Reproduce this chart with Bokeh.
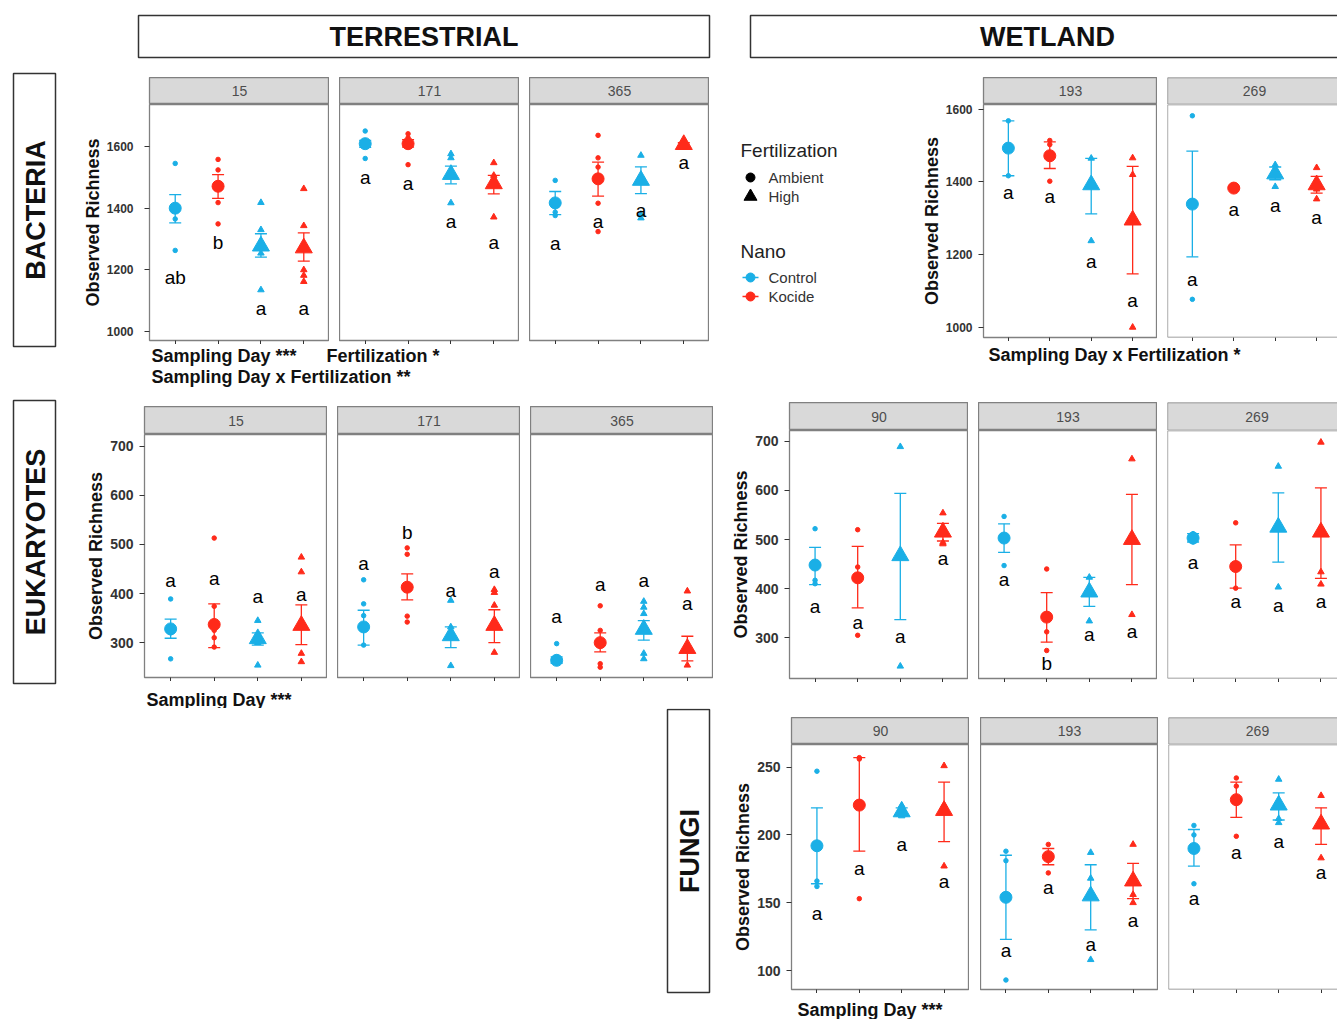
import math
from bokeh.plotting import figure
from bokeh.models import Range1d, FixedTicker, Whisker, TeeHead, ColumnDataSource, Spacer, Span
from bokeh.layouts import row, column
from bokeh.embed import file_html
from bokeh.resources import INLINE
from bokeh.core.properties import value

FONT = "Liberation Sans"
BLUE = "#1AAFE6"
RED = "#FF2A1A"
INK = "#111111"
TICK_TXT = "#333333"
BORDER = "#808080"
STRIP_FILL = "#D9D9D9"

# ---------------- groups ----------------
GROUP_X = [1, 2, 3, 4]
NANO = ["Control", "Kocide", "Control", "Kocide"]
FERT = ["Ambient", "Ambient", "High", "High"]
NANO_COLOR = {"Control": BLUE, "Kocide": RED}
FERT_MARKER = {"Ambient": "circle", "High": "triangle"}
MEAN_SIZE = {"Ambient": 12, "High": 17}
RAW_SIZE = {"Ambient": 4.5, "High": 6.5}

# ---------------- BACTERIA / TERRESTRIAL ----------------
BT_DAYS = ["15", "171", "365"]
BT_MEAN = [[1400, 1471, 1277, 1271], [1609, 1609, 1509, 1479], [1417, 1495, 1490, 1606]]
BT_LOW = [[1352, 1432, 1241, 1228], [1597, 1598, 1479, 1446], [1379, 1439, 1447, 1600]]
BT_HIGH = [[1444, 1509, 1317, 1320], [1620, 1622, 1536, 1506], [1454, 1549, 1534, 1612]]
BT_RAW = [
    [[1545, 1365, 1263], [1558, 1524, 1418, 1349], [1418, 1330, 1254, 1135], [1463, 1343, 1200, 1182, 1162]],
    [[1650, 1561], [1641, 1628, 1541], [1576, 1563, 1417], [1547, 1506, 1493, 1371]],
    [[1490, 1387, 1376], [1636, 1563, 1533, 1416, 1324], [1571, 1380, 1368], [1610, 1604]],
]
BT_LETTERS = [["ab", "b", "a", "a"], ["a", "a", "a", "a"], ["a", "a", "a", "a"]]
BT_LETTER_Y = [[1176, 1288, 1076, 1076], [1498, 1481, 1358, 1290], [1287, 1357, 1393, 1547]]

# ---------------- BACTERIA / WETLAND ----------------
BW_DAYS = ["193", "269"]
BW_MEAN = [[1493, 1472, 1392, 1295], [1339, 1383, 1422, 1392]]
BW_LOW = [[1417, 1437, 1312, 1147], [1194, 1380, 1406, 1369]]
BW_HIGH = [[1568, 1510, 1465, 1443], [1485, 1386, 1441, 1415]]
BW_RAW = [
    [[1568, 1417], [1514, 1503, 1402], [1465, 1238], [1466, 1420, 1000]],
    [[1582, 1077], [1383], [1447, 1430, 1387], [1439, 1380, 1353]],
]
BW_LETTERS = [["a", "a", "a", "a"], ["a", "a", "a", "a"]]
BW_LETTER_Y = [[1370, 1361, 1180, 1074], [1132, 1325, 1335, 1302]]

# ---------------- EUKARYOTES / TERRESTRIAL ----------------
ET_DAYS = ["15", "171", "365"]
ET_MEAN = [[328, 337, 308, 335], [332, 413, 314, 335], [264, 300, 327, 288]]
ET_LOW = [[309, 290, 295, 296], [295, 387, 290, 300], [258, 281, 305, 263]]
ET_HIGH = [[348, 379, 320, 377], [366, 440, 332, 367], [271, 320, 345, 313]]
ET_RAW = [
    [[389, 320, 267], [513, 374, 325, 310, 291], [345, 300, 254], [474, 444, 278, 261]],
    [[428, 379, 355, 295], [493, 480, 354, 342], [386, 332, 253], [408, 402, 376, 280]],
    [[298, 270, 258], [375, 325, 257, 250], [384, 372, 359, 278, 267], [405, 254]],
]
ET_LETTERS = [["a", "a", "a", "a"], ["a", "b", "a", "a"], ["a", "a", "a", "a"]]
ET_LETTER_Y = [[427, 430, 393, 398], [462, 524, 406, 444], [354, 419, 427, 379]]

# ---------------- EUKARYOTES / WETLAND ----------------
EW_DAYS = ["90", "193", "269"]
EW_MEAN = [[448, 422, 467, 515], [503, 342, 393, 500], [503, 445, 525, 515]]
EW_LOW = [[408, 361, 337, 497], [474, 291, 364, 408], [495, 401, 454, 421]]
EW_HIGH = [[484, 486, 594, 533], [532, 392, 423, 592], [512, 489, 595, 605]]
EW_RAW = [
    [[522, 417, 410], [520, 444, 305], [689, 242], [554, 494, 491]],
    [[547, 447], [440, 312, 274], [423, 334], [664, 347]],
    [[512, 495], [534, 401], [649, 403], [698, 434, 409]],
]
EW_LETTERS = [["a", "a", "a", "a"], ["a", "b", "a", "a"], ["a", "a", "a", "a"]]
EW_LETTER_Y = [[364, 331, 303, 461], [418, 247, 306, 312], [454, 374, 366, 374]]

# ---------------- FUNGI / WETLAND ----------------
FW_DAYS = ["90", "193", "269"]
FW_MEAN = [[192, 222, 217, 218], [154, 184, 155, 166], [190, 226, 222, 208]]
FW_LOW = [[164, 188, 214, 195], [123, 178, 130, 153], [177, 213, 211, 193]]
FW_HIGH = [[220, 257, 220, 239], [185, 190, 178, 179], [204, 239, 231, 220]]
FW_RAW = [
    [[247, 166, 162], [257, 256, 153], [222, 218, 216, 214], [251, 222, 177]],
    [[188, 181, 93], [193, 172], [187, 168, 108], [193, 156, 150]],
    [[207, 200, 164], [242, 236, 199], [241, 212, 209], [229, 183]],
]
FW_LETTERS = [["a", "a", "a", "a"], ["a", "a", "a", "a"], ["a", "a", "a", "a"]]
FW_LETTER_Y = [[142, 175, 193, 166], [115, 161, 119, 137], [153, 187, 195, 172]]

BACT_TICKS = [1000, 1200, 1400, 1600]
EUK_TICKS = [300, 400, 500, 600, 700]
FUNGI_TICKS = [100, 150, 200, 250]


def make_deco(x0, x1, y0, y1):
    p = figure(frame_width=x1 - x0, frame_height=y1 - y0,
               x_range=Range1d(x0, x1), y_range=Range1d(y1, y0),
               x_axis_type=None, y_axis_type=None, title=None,
               output_backend="svg", toolbar_location=None,
               min_border_left=0, min_border_right=0, min_border_top=0, min_border_bottom=0)
    p.outline_line_color = None
    return p


def put_text(p, x, y, s, size, bold=False, color=INK, align="left", angle=0.0, baseline="middle"):
    p.text(x=[x], y=[y], text=[s], text_font=value(FONT), text_font_size=f"{size}px",
           text_font_style="bold" if bold else "normal", text_color=color,
           text_align=align, text_baseline=baseline, angle=angle)


def box(p, l, r, t, b):
    p.quad(left=[l], right=[r], top=[t], bottom=[b], fill_color=None,
           line_color="#333333", line_width=1.5)


def facet_group(days, means, lows, highs, raws, letters, letter_y, y_lo, y_hi, yticks, tick_font,
                tick_standoff, border, widths, full_widths, gaps, top_pad, strip_h, panel_h):
    yr = Range1d(y_lo, y_hi)
    strips, panels = [], []
    total_w = border + sum(widths) + sum(gaps)
    for i, day in enumerate(days):
        w, fw = widths[i], full_widths[i]
        frac = w / fw
        lb = border if i == 0 else 0
        cut = w < fw
        # ---- strip ----
        s = figure(frame_width=w, frame_height=strip_h, x_range=Range1d(0, frac), y_range=Range1d(0, 1),
                   x_axis_type=None, y_axis_type=None, title=None,
                   output_backend="svg", toolbar_location=None,
                   min_border_left=lb, min_border_right=0, min_border_top=0, min_border_bottom=0)
        s.background_fill_color = STRIP_FILL
        s.outline_line_color = None if cut else BORDER
        s.outline_line_width = 1.3
        s.text(x=[0.5], y=[0.5], text=[day], text_font=value(FONT), text_font_size="14px",
               text_color="#4D4D4D", text_align="center", text_baseline="middle")
        if cut:
            for loc, dim in ((0, "height"), (0, "width"), (1, "width")):
                s.add_layout(Span(location=loc, dimension=dim, line_color=BORDER, line_width=1.3))
        # ---- panel ----
        p = figure(frame_width=w, frame_height=panel_h,
                   x_range=Range1d(0.4, 0.4 + 4.2 * frac), y_range=yr,
                   y_axis_type="linear" if i == 0 else None, title=None,
                   output_backend="svg", toolbar_location=None,
                   min_border_left=lb, min_border_right=0, min_border_top=0, min_border_bottom=4)
        p.grid.visible = False
        p.outline_line_color = None if cut else BORDER
        p.outline_line_width = 1.3
        if cut:
            for loc, dim in ((0.4, "height"), (y_lo, "width"), (y_hi, "width")):
                p.add_layout(Span(location=loc, dimension=dim, line_color=BORDER, line_width=1.3))
        xa = p.xaxis[0]
        xa.ticker = FixedTicker(ticks=GROUP_X)
        xa.major_label_text_font_size = "0px"
        xa.major_label_text_color = None
        xa.major_label_standoff = 0
        xa.major_tick_out = 4
        xa.major_tick_in = 0
        xa.minor_tick_out = 0
        xa.minor_tick_in = 0
        xa.axis_line_color = None
        xa.major_tick_line_color = "#333333"
        if i == 0:
            ya = p.yaxis[0]
            ya.ticker = FixedTicker(ticks=yticks)
            ya.axis_label = "Observed Richness"
            ya.axis_label_text_font = FONT
            ya.axis_label_text_font_size = "18px"
            ya.axis_label_text_font_style = "bold"
            ya.axis_label_text_color = INK
            ya.axis_label_standoff = 1
            ya.major_label_text_font = FONT
            ya.major_label_text_font_size = tick_font
            ya.major_label_text_font_style = "bold"
            ya.major_label_text_color = TICK_TXT
            ya.major_label_standoff = tick_standoff
            ya.major_tick_out = 5
            ya.major_tick_in = 0
            ya.minor_tick_out = 0
            ya.minor_tick_in = 0
            ya.axis_line_color = None
            ya.major_tick_line_color = "#333333"
        # error bars
        for nano in ("Control", "Kocide"):
            idx = [k for k in range(4) if NANO[k] == nano]
            c = NANO_COLOR[nano]
            wsrc = ColumnDataSource(dict(x=[GROUP_X[k] for k in idx],
                                         lower=[lows[i][k] for k in idx],
                                         upper=[highs[i][k] for k in idx]))
            p.add_layout(Whisker(source=wsrc, base="x", lower="lower", upper="upper",
                                 dimension="height", line_color=c, line_width=1.3,
                                 upper_head=TeeHead(size=12, line_color=c, line_width=1.3),
                                 lower_head=TeeHead(size=12, line_color=c, line_width=1.3)))
        # raw observations
        rx, ry, rc, rm, rs = [], [], [], [], []
        for k in range(4):
            for v in raws[i][k]:
                rx.append(GROUP_X[k]); ry.append(v)
                rc.append(NANO_COLOR[NANO[k]]); rm.append(FERT_MARKER[FERT[k]]); rs.append(RAW_SIZE[FERT[k]])
        p.scatter(x="x", y="y", marker="marker", size="size", color="color",
                  source=ColumnDataSource(dict(x=rx, y=ry, color=rc, marker=rm, size=rs)))
        # means
        msrc = ColumnDataSource(dict(x=GROUP_X, y=means[i],
                                     color=[NANO_COLOR[n] for n in NANO],
                                     marker=[FERT_MARKER[f] for f in FERT],
                                     size=[MEAN_SIZE[f] for f in FERT]))
        p.scatter(x="x", y="y", marker="marker", size="size", color="color", source=msrc)
        # letters
        p.text(x=GROUP_X, y=letter_y[i], text=letters[i], text_font=value(FONT), text_font_size="19px",
               text_color="#000000", text_align="center", text_baseline="middle")
        strips.append(s)
        panels.append(p)
        if i < len(days) - 1:
            strips.append(Spacer(width=gaps[i], height=strip_h))
            panels.append(Spacer(width=gaps[i], height=panel_h + 4))
    return column(Spacer(width=total_w, height=top_pad), row(*strips), row(*panels))


# ---------------- header (rows 0-65) ----------------
hdr = make_deco(0, 1337, 0, 65)
box(hdr, 138, 709, 15, 57)
put_text(hdr, 423.5, 36.5, "TERRESTRIAL", 27, bold=True, align="center")
box(hdr, 750, 1345, 15, 57)
put_text(hdr, 1047, 36.5, "WETLAND", 27, bold=True, align="center")

# ---------------- bacteria row (65-395) ----------------
b0 = make_deco(0, 70, 65, 395)
box(b0, 13, 55, 73, 346)
put_text(b0, 35, 209.5, "BACTERIA", 27, bold=True, align="center", angle=math.pi / 2)

bt = facet_group(BT_DAYS, BT_MEAN, BT_LOW, BT_HIGH, BT_RAW, BT_LETTERS, BT_LETTER_Y,
                 971, 1736, BACT_TICKS, "12px", 11, 79, [180, 180, 180], [180, 180, 180], [10, 10], 12, 27, 236)
bt_note = make_deco(70, 709, 344, 395)
put_text(bt_note, 151, 355, "Sampling Day ***", 18, bold=True)
put_text(bt_note, 326, 355, "Fertilization *", 18, bold=True)
put_text(bt_note, 151, 376, "Sampling Day x Fertilization **", 18, bold=True)

leg = make_deco(709, 913, 65, 395)
put_text(leg, 740, 150, "Fertilization", 19, color="#222222")
leg.scatter(x=[750], y=[177], marker="circle", size=9, color="#000000")
leg.scatter(x=[750], y=[196], marker="triangle", size=13, color="#000000")
put_text(leg, 768, 177, "Ambient", 15, color="#333333")
put_text(leg, 768, 196, "High", 15, color="#333333")
put_text(leg, 740, 251, "Nano", 19, color="#222222")
for yy, nm in ((277, "Control"), (296, "Kocide")):
    leg.segment(x0=[742], y0=[yy], x1=[758], y1=[yy], line_color=NANO_COLOR[nm], line_width=1.5)
    leg.scatter(x=[750], y=[yy], marker="circle", size=9, color=NANO_COLOR[nm])
    put_text(leg, 768, yy, nm, 15, color="#333333")

bw = facet_group(BW_DAYS, BW_MEAN, BW_LOW, BW_HIGH, BW_RAW, BW_LETTERS, BW_LETTER_Y,
                 972, 1613, BACT_TICKS, "12px", 6, 70, [174, 170], [174, 174], [10], 12, 27, 233)
bw_note = make_deco(913, 1337, 341, 395)
put_text(bw_note, 988, 354, "Sampling Day x Fertilization *", 18, bold=True)

row_b = row(b0, column(bt, bt_note), leg, column(bw, bw_note))

# ---------------- eukaryotes row (395-708) ----------------
c0 = make_deco(0, 78, 395, 708)
box(c0, 13, 55, 400, 683)
put_text(c0, 35, 541.5, "EUKARYOTES", 27, bold=True, align="center", angle=math.pi / 2)

et = facet_group(ET_DAYS, ET_MEAN, ET_LOW, ET_HIGH, ET_RAW, ET_LETTERS, ET_LETTER_Y,
                 229, 724, EUK_TICKS, "14px", 6, 66, [183, 183, 183], [183, 183, 183], [10, 10], 11, 28, 243)
et_note = make_deco(78, 713, 681, 708)
put_text(et_note, 146, 699, "Sampling Day ***", 18, bold=True)

ew = facet_group(EW_DAYS, EW_MEAN, EW_LOW, EW_HIGH, EW_RAW, EW_LETTERS, EW_LETTER_Y,
                 217, 722, EUK_TICKS, "14px", 6, 64, [179, 179, 170], [179, 179, 179], [10, 10], 7, 28, 248)

row_c = row(c0, column(et, et_note), Spacer(width=12, height=313), column(ew, Spacer(width=612, height=26)))

# ---------------- fungi row (708-1019) ----------------
d0 = make_deco(0, 720, 708, 1019)
box(d0, 667, 709, 709, 992)
put_text(d0, 689, 850.5, "FUNGI", 27, bold=True, align="center", angle=math.pi / 2)

fw = facet_group(FW_DAYS, FW_MEAN, FW_LOW, FW_HIGH, FW_RAW, FW_LETTERS, FW_LETTER_Y,
                 86, 266.7, FUNGI_TICKS, "14px", 6, 71, [178, 178, 169], [178, 178, 178], [11, 10], 9, 27, 245)
fw_note = make_deco(720, 1337, 993, 1019)
put_text(fw_note, 797, 1009, "Sampling Day ***", 18, bold=True)

row_d = row(d0, column(fw, fw_note))

page = column(hdr, row_b, row_c, row_d)

open("out.html", "w").write(file_html(page, INLINE))
